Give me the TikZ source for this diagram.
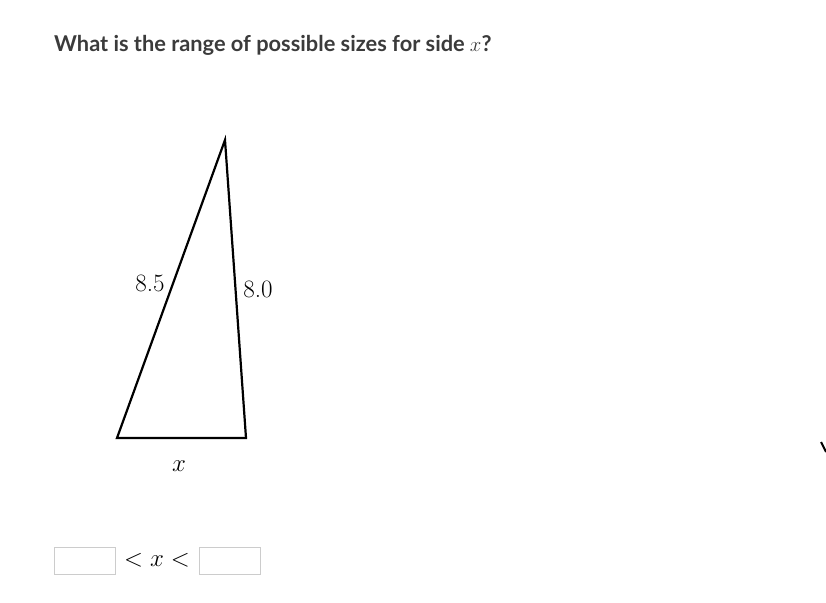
\documentclass[tikz,border=0pt]{standalone}
\usepackage{fontspec}
\newfontfamily\latofont{Lato}
\usetikzlibrary{arrows.meta}
\definecolor{questgray}{HTML}{3B3B3B}
\definecolor{boxgray}{HTML}{CCCCCC}
\tikzset{
  side/.style = {line width = 2.2pt, line join = miter},
  sidelabel/.style = {font = \fontsize{25}{28}\selectfont, inner sep = 0pt},
  answerbox/.style = {draw = boxgray, line width = 1pt, minimum width = 61pt, minimum height = 27pt, inner sep = 0pt}
}
\begin{document}
\begin{tikzpicture}%
        [x = 1pt, y = -1pt]
        \useasboundingbox (0,0) rectangle (826,602);
        \node [anchor = base west, inner sep = 0pt, text = questgray, font = \latofont\bfseries\fontsize{21.8}{24}\selectfont] (question) at (54,52) {What is the range of possible sizes for side $x$?};

        \coordinate (top) at (225,140);
        \coordinate (left) at (117,438);
        \coordinate (right) at (246,438);
        \draw [side] (left) -- (top) -- (right) -- cycle;

        \node [sidelabel] (labA) at (150,283) {8.5};
        \node [sidelabel] (labB) at (258,289) {8.0};
        \node [sidelabel] (labX) at (179,466) {$x$};

        \node [answerbox] (lower) at (84.5,560.5) {};
        \node [answerbox] (upper) at (229.5,560.5) {};
        \node [font = \fontsize{24}{28}\selectfont, inner sep = 0pt] (ineq) at (157,560) {$<x<$};

        % cut-off mark at the right edge
        \draw [line width = 2pt] (821,442) -- (826,452);
    \end{tikzpicture}
\end{document}
